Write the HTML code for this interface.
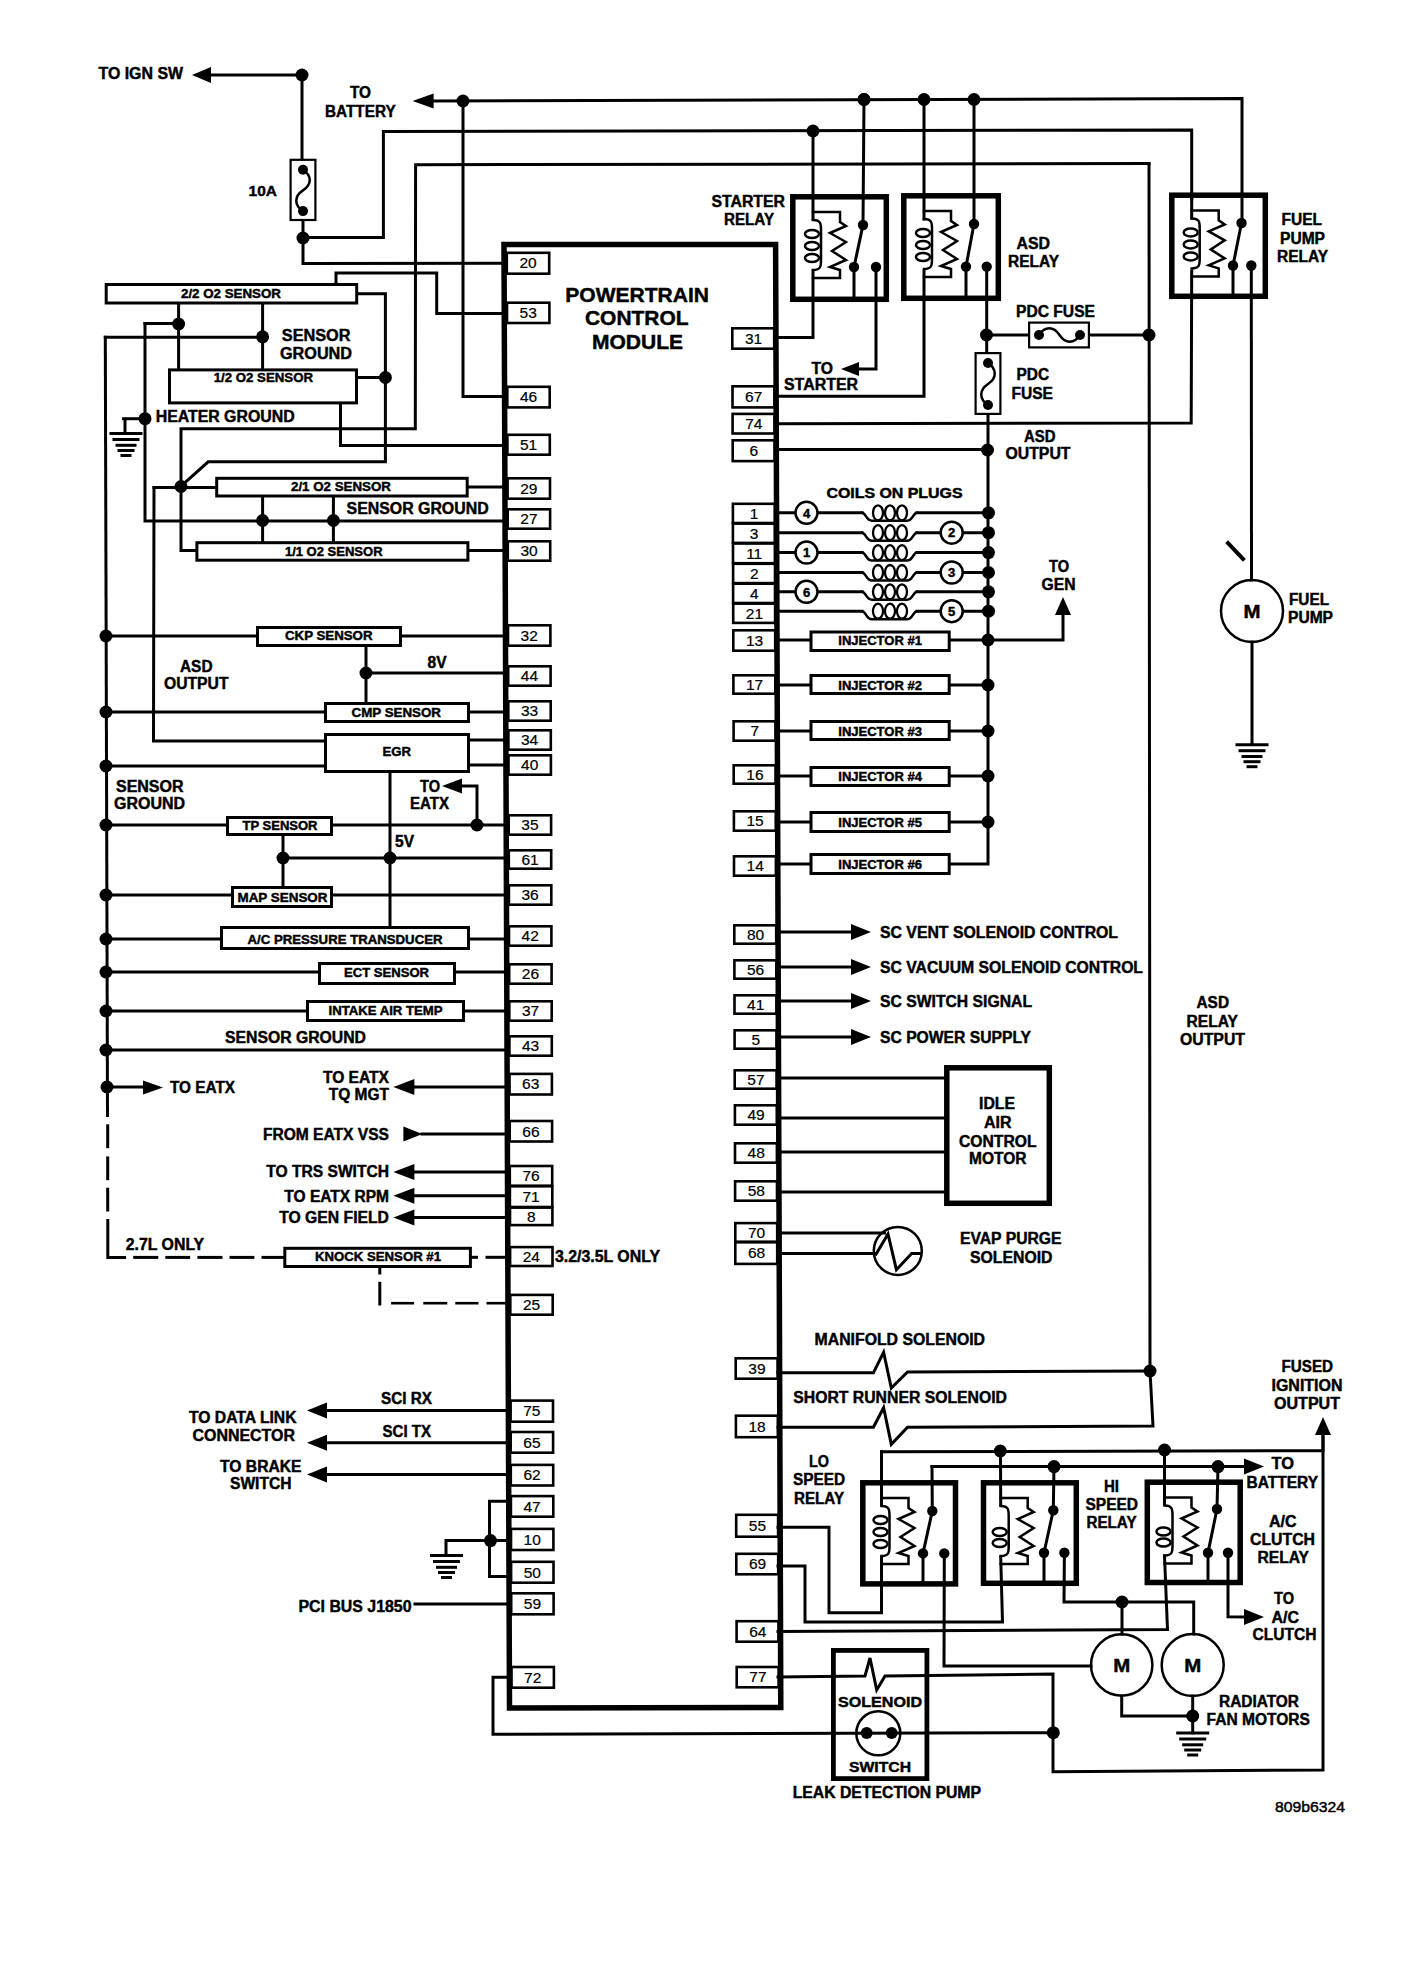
<!DOCTYPE html>
<html><head><meta charset="utf-8"><style>
html,body{margin:0;padding:0;background:#fff;}
svg{display:block;}
svg *{fill:none;stroke:#000;stroke-linecap:square;stroke-linejoin:miter;}
svg text{fill:#000;stroke:#000;stroke-width:0.45px;font-family:"Liberation Sans",sans-serif;}
svg .k{fill:#000;stroke:none;}
svg .w{fill:#fff;stroke:none;}
svg text.pn{font-weight:normal;stroke-width:0.2px;}
</style></head><body>
<svg width="1408" height="1968" viewBox="0 0 1408 1968">
<rect class="w" x="0" y="0" width="1408" height="1968"/>
<polygon points="504,244.5 775.6,244.5 780.8,1707.5 509.5,1708" stroke-width="5.5"/>
<text x="565.3" y="301.8" font-size="21" font-weight="bold" textLength="143.7" lengthAdjust="spacingAndGlyphs">POWERTRAIN</text>
<text x="585" y="325.4" font-size="21" font-weight="bold" textLength="103.5" lengthAdjust="spacingAndGlyphs">CONTROL</text>
<text x="592" y="349.1" font-size="21" font-weight="bold" textLength="91" lengthAdjust="spacingAndGlyphs">MODULE</text>
<text x="98.5" y="79.4" font-size="16" font-weight="bold" textLength="84.5" lengthAdjust="spacingAndGlyphs">TO IGN SW</text>
<polygon points="192,75 211,67 211,83" class="k"/>
<polyline points="211,75 302,75 302,159" stroke-width="3"/>
<circle cx="302" cy="75" r="6.5" class="k"/>
<rect x="290.6" y="159.8" width="24.8" height="60.2" stroke-width="2.2"/>
<circle cx="303" cy="169.7" r="5" class="k"/>
<circle cx="303" cy="211.1" r="5" class="k"/>
<path d="M303,169.7 C312,175.7 312,184.4 303,190.4 S294,205.1 303,211.1" stroke-width="2.5"/>
<text x="248.6" y="196" font-size="15" font-weight="bold" textLength="28.3" lengthAdjust="spacingAndGlyphs">10A</text>
<polyline points="303,221 303,263.5 504,263.2" stroke-width="3"/>
<circle cx="303" cy="238" r="6.5" class="k"/>
<polyline points="303,237.5 383.4,237.5 383.4,131.5 1191.7,130 1191.7,199" stroke-width="3"/>
<text x="350" y="98.2" font-size="16" font-weight="bold" textLength="21" lengthAdjust="spacingAndGlyphs">TO</text>
<text x="325" y="117" font-size="16" font-weight="bold" textLength="70.6" lengthAdjust="spacingAndGlyphs">BATTERY</text>
<polygon points="412.6,101 433.6,93.5 433.6,108.5" class="k"/>
<polyline points="433,101 1242,98.5 1242,223" stroke-width="3"/>
<circle cx="463" cy="101" r="6.5" class="k"/>
<circle cx="864" cy="99.5" r="6.5" class="k"/>
<circle cx="924" cy="99.5" r="6.5" class="k"/>
<circle cx="974" cy="99.5" r="6.5" class="k"/>
<polyline points="463,101 463,396.5 504,396.5" stroke-width="3"/>
<polyline points="1149,163.5 415.6,164.7 415.3,428.8 181,428.8 181,550.4 195.4,550.4" stroke-width="3"/>
<polyline points="1149,163.5 1150,1371" stroke-width="3"/>
<rect x="106.2" y="284.5" width="250.5" height="18.5" stroke-width="3"/>
<text x="181" y="298.4" font-size="13" font-weight="bold" textLength="100" lengthAdjust="spacingAndGlyphs">2/2 O2 SENSOR</text>
<polyline points="336,283 336,273 436.7,273 436.7,313.5 504,313.5" stroke-width="3"/>
<polyline points="358,293.8 385.4,293.8 385.4,461.8 208.2,461.8 181,486.2" stroke-width="3"/>
<circle cx="385.4" cy="377.5" r="6.5" class="k"/>
<polyline points="358,377.5 385.4,377.5" stroke-width="3"/>
<rect x="169.5" y="369.9" width="187" height="33" stroke-width="3"/>
<text x="213.7" y="382.4" font-size="13" font-weight="bold" textLength="99.3" lengthAdjust="spacingAndGlyphs">1/2 O2 SENSOR</text>
<polyline points="340.5,404.4 340.5,445.6 504,445.6" stroke-width="3"/>
<circle cx="178.6" cy="324" r="6.5" class="k"/>
<circle cx="262.6" cy="336.8" r="6.5" class="k"/>
<polyline points="178.6,304.5 178.6,368.4" stroke-width="3"/>
<polyline points="262.6,304.5 262.6,368.4" stroke-width="3"/>
<polyline points="145,323.5 178.6,323.5" stroke-width="3"/>
<polyline points="105.3,337.2 262.6,337.2" stroke-width="3"/>
<polyline points="145,323.5 145,521 504,521" stroke-width="3"/>
<circle cx="145" cy="418.7" r="6.5" class="k"/>
<polyline points="123.6,418.7 145,418.7" stroke-width="3"/>
<polyline points="125,419.5 125,433.5" stroke-width="3"/>
<line x1="111" y1="433.5" x2="141" y2="433.5" stroke-width="3"/>
<line x1="114" y1="439.5" x2="138" y2="439.5" stroke-width="3"/>
<line x1="117" y1="445.3" x2="135" y2="445.3" stroke-width="3"/>
<line x1="119" y1="450.5" x2="133" y2="450.5" stroke-width="3"/>
<line x1="122" y1="455.5" x2="130" y2="455.5" stroke-width="3"/>
<text x="155.7" y="422.1" font-size="16" font-weight="bold" textLength="138.9" lengthAdjust="spacingAndGlyphs">HEATER GROUND</text>
<text x="281.8" y="341.2" font-size="16" font-weight="bold" textLength="68.7" lengthAdjust="spacingAndGlyphs">SENSOR</text>
<text x="280" y="358.6" font-size="16" font-weight="bold" textLength="72" lengthAdjust="spacingAndGlyphs">GROUND</text>
<polyline points="105.3,337.2 107.5,1115.4" stroke-width="3"/>
<polyline points="107.7,1125.8 107.7,1146.7" stroke-width="3"/>
<polyline points="107.7,1157.9 107.7,1178.7" stroke-width="3"/>
<polyline points="107.7,1189.2 107.7,1210" stroke-width="3"/>
<polyline points="107.8,1220.5 107.8,1257.4 124.6,1257.4" stroke-width="3"/>
<polyline points="134.7,1257.4 156.8,1257.4" stroke-width="3"/>
<polyline points="166.8,1257.4 188.7,1257.4" stroke-width="3"/>
<polyline points="198.9,1257.4 221,1257.4" stroke-width="3"/>
<polyline points="231,1257.4 252.9,1257.4" stroke-width="3"/>
<polyline points="263,1257.4 283.9,1257.4" stroke-width="3"/>
<polyline points="154,487.5 215.2,487.5" stroke-width="3"/>
<circle cx="181" cy="486.5" r="6.5" class="k"/>
<polyline points="154,487.5 153.5,741 324,741" stroke-width="3"/>
<rect x="216.7" y="478.3" width="250.5" height="17.7" stroke-width="3"/>
<text x="291" y="491.4" font-size="13" font-weight="bold" textLength="100" lengthAdjust="spacingAndGlyphs">2/1 O2 SENSOR</text>
<polyline points="468.7,487 504,487" stroke-width="3"/>
<circle cx="262.6" cy="520.5" r="6.5" class="k"/>
<circle cx="333.4" cy="520.5" r="6.5" class="k"/>
<polyline points="262.6,497.5 262.6,541.2" stroke-width="3"/>
<polyline points="333.4,497.5 333.4,541.2" stroke-width="3"/>
<text x="346.6" y="514.4" font-size="16" font-weight="bold" textLength="142" lengthAdjust="spacingAndGlyphs">SENSOR GROUND</text>
<rect x="196.9" y="542.7" width="271" height="17.5" stroke-width="3"/>
<text x="284.9" y="555.6" font-size="13" font-weight="bold" textLength="97.7" lengthAdjust="spacingAndGlyphs">1/1 O2 SENSOR</text>
<polyline points="469.4,550.4 504,550.4" stroke-width="3"/>
<rect x="257.5" y="627.5" width="143" height="18" stroke-width="3"/>
<text x="285" y="640.4" font-size="13" font-weight="bold" textLength="87.5" lengthAdjust="spacingAndGlyphs">CKP SENSOR</text>
<polyline points="106,636 256,636" stroke-width="3"/>
<polyline points="402,636 506,636" stroke-width="3"/>
<circle cx="106" cy="636" r="6.5" class="k"/>
<polyline points="366,647 366,702" stroke-width="3"/>
<circle cx="366" cy="673" r="6.5" class="k"/>
<polyline points="366,673 506,673" stroke-width="3"/>
<text x="427.5" y="667.9" font-size="16" font-weight="bold" textLength="19" lengthAdjust="spacingAndGlyphs">8V</text>
<text x="180" y="671.9" font-size="16" font-weight="bold" textLength="32.5" lengthAdjust="spacingAndGlyphs">ASD</text>
<text x="164" y="689.4" font-size="16" font-weight="bold" textLength="64.5" lengthAdjust="spacingAndGlyphs">OUTPUT</text>
<rect x="325.5" y="703.5" width="143" height="18" stroke-width="3"/>
<text x="351.5" y="716.9" font-size="13" font-weight="bold" textLength="89.5" lengthAdjust="spacingAndGlyphs">CMP SENSOR</text>
<polyline points="106,712 324,712" stroke-width="3"/>
<polyline points="470,712 506,712" stroke-width="3"/>
<circle cx="106" cy="712" r="6.5" class="k"/>
<rect x="325.5" y="734.5" width="143" height="37" stroke-width="3"/>
<text x="382.5" y="755.9" font-size="13" font-weight="bold" textLength="28.5" lengthAdjust="spacingAndGlyphs">EGR</text>
<polyline points="470,740 506,740" stroke-width="3"/>
<polyline points="470,765 506,765" stroke-width="3"/>
<polyline points="106,766 324,766" stroke-width="3"/>
<circle cx="106" cy="766" r="6.5" class="k"/>
<text x="116" y="791.9" font-size="16" font-weight="bold" textLength="67.5" lengthAdjust="spacingAndGlyphs">SENSOR</text>
<text x="114" y="809.4" font-size="16" font-weight="bold" textLength="71" lengthAdjust="spacingAndGlyphs">GROUND</text>
<polyline points="390,773 390,926" stroke-width="3"/>
<circle cx="390" cy="858" r="6.5" class="k"/>
<text x="420" y="791.9" font-size="16" font-weight="bold" textLength="20" lengthAdjust="spacingAndGlyphs">TO</text>
<text x="410" y="809.4" font-size="16" font-weight="bold" textLength="39" lengthAdjust="spacingAndGlyphs">EATX</text>
<polygon points="442,786 462,778.5 462,793.5" class="k"/>
<polyline points="462,786 477,786 477,825" stroke-width="3"/>
<circle cx="477" cy="825" r="6.5" class="k"/>
<rect x="227.5" y="817.5" width="104" height="17" stroke-width="3"/>
<text x="242.5" y="830.4" font-size="13" font-weight="bold" textLength="75" lengthAdjust="spacingAndGlyphs">TP SENSOR</text>
<polyline points="106,825 226,825" stroke-width="3"/>
<polyline points="333,825 506,825" stroke-width="3"/>
<circle cx="106" cy="825" r="6.5" class="k"/>
<text x="395" y="846.9" font-size="16" font-weight="bold" textLength="19" lengthAdjust="spacingAndGlyphs">5V</text>
<polyline points="283,836 283,886" stroke-width="3"/>
<circle cx="283" cy="858" r="6.5" class="k"/>
<polyline points="283,858 506,858" stroke-width="3"/>
<rect x="232.5" y="887.5" width="99" height="19" stroke-width="3"/>
<text x="237.5" y="901.9" font-size="13" font-weight="bold" textLength="90" lengthAdjust="spacingAndGlyphs">MAP SENSOR</text>
<polyline points="106,895 231,895" stroke-width="3"/>
<polyline points="333,895 506,895" stroke-width="3"/>
<circle cx="106" cy="895" r="6.5" class="k"/>
<rect x="221.5" y="927.5" width="247" height="21" stroke-width="3"/>
<text x="247.5" y="944.4" font-size="13" font-weight="bold" textLength="195" lengthAdjust="spacingAndGlyphs">A/C PRESSURE TRANSDUCER</text>
<polyline points="106,939 220,939" stroke-width="3"/>
<polyline points="470,939 506,939" stroke-width="3"/>
<circle cx="106" cy="939" r="6.5" class="k"/>
<rect x="319.5" y="963.5" width="135" height="20" stroke-width="3"/>
<text x="344" y="976.9" font-size="13" font-weight="bold" textLength="85" lengthAdjust="spacingAndGlyphs">ECT SENSOR</text>
<polyline points="106,972 318,972" stroke-width="3"/>
<polyline points="456,972 507,972" stroke-width="3"/>
<circle cx="106" cy="972" r="6.5" class="k"/>
<rect x="307.5" y="1001.5" width="156" height="19" stroke-width="3"/>
<text x="328.5" y="1015.4" font-size="13" font-weight="bold" textLength="114" lengthAdjust="spacingAndGlyphs">INTAKE AIR TEMP</text>
<polyline points="106,1011 306,1011" stroke-width="3"/>
<polyline points="465,1011 507,1011" stroke-width="3"/>
<circle cx="106" cy="1011" r="6.5" class="k"/>
<text x="225" y="1043.4" font-size="16" font-weight="bold" textLength="141" lengthAdjust="spacingAndGlyphs">SENSOR GROUND</text>
<polyline points="106,1050 507,1050" stroke-width="3"/>
<circle cx="106" cy="1050" r="6.5" class="k"/>
<circle cx="107" cy="1087" r="6.5" class="k"/>
<polyline points="107,1087 143,1087" stroke-width="3"/>
<polygon points="163,1087.5 143,1080.5 143,1094.5" class="k"/>
<text x="170" y="1093.4" font-size="16" font-weight="bold" textLength="65" lengthAdjust="spacingAndGlyphs">TO EATX</text>
<text x="322.9" y="1083.4" font-size="16" font-weight="bold" textLength="66.1" lengthAdjust="spacingAndGlyphs">TO EATX</text>
<text x="328.7" y="1100.4" font-size="16" font-weight="bold" textLength="60.3" lengthAdjust="spacingAndGlyphs">TQ MGT</text>
<polygon points="393.4,1087 414.4,1079 414.4,1095" class="k"/>
<polyline points="414,1087 509,1087" stroke-width="3"/>
<text x="262.9" y="1140.4" font-size="16" font-weight="bold" textLength="126.1" lengthAdjust="spacingAndGlyphs">FROM EATX VSS</text>
<polygon points="422.4,1134 403.4,1126.5 403.4,1141.5" class="k"/>
<polyline points="422,1134 509,1134" stroke-width="3"/>
<text x="266.3" y="1177" font-size="16" font-weight="bold" textLength="122.7" lengthAdjust="spacingAndGlyphs">TO TRS SWITCH</text>
<polygon points="393.4,1172 414.4,1164 414.4,1180" class="k"/>
<polyline points="414,1172 509,1172" stroke-width="3"/>
<text x="284.3" y="1201.9" font-size="16" font-weight="bold" textLength="104.7" lengthAdjust="spacingAndGlyphs">TO EATX RPM</text>
<polygon points="393.4,1195.7 414.4,1187.7 414.4,1203.7" class="k"/>
<polyline points="414,1195.7 509,1195.7" stroke-width="3"/>
<text x="279.2" y="1223.1" font-size="16" font-weight="bold" textLength="109.8" lengthAdjust="spacingAndGlyphs">TO GEN FIELD</text>
<polygon points="393.4,1217.5 414.4,1209.5 414.4,1225.5" class="k"/>
<polyline points="414,1217.5 509,1217.5" stroke-width="3"/>
<rect x="284.8" y="1248.3" width="185.6" height="18.2" stroke-width="3"/>
<text x="315" y="1261.4" font-size="13" font-weight="bold" textLength="126" lengthAdjust="spacingAndGlyphs">KNOCK SENSOR #1</text>
<polyline points="472,1257.3 476.5,1257.3" stroke-width="3"/>
<polyline points="487,1257.3 507,1257.3" stroke-width="3"/>
<text x="125.8" y="1250.4" font-size="16" font-weight="bold" textLength="78.4" lengthAdjust="spacingAndGlyphs">2.7L ONLY</text>
<text x="555" y="1261.9" font-size="16" font-weight="bold" textLength="105" lengthAdjust="spacingAndGlyphs">3.2/3.5L ONLY</text>
<polyline points="379.8,1269 379.8,1273" stroke-width="3"/>
<polyline points="379.8,1283.3 379.8,1304" stroke-width="3"/>
<polyline points="392.4,1303.2 412.8,1303.2" stroke-width="2.6"/>
<polyline points="424.6,1303.2 446,1303.2" stroke-width="2.6"/>
<polyline points="456.6,1303.2 477.2,1303.2" stroke-width="2.6"/>
<polyline points="487.8,1303.2 507,1303.2" stroke-width="2.6"/>
<text x="381" y="1404.4" font-size="16" font-weight="bold" textLength="51" lengthAdjust="spacingAndGlyphs">SCI RX</text>
<polygon points="307,1410.5 327,1402.5 327,1418.5" class="k"/>
<polyline points="327,1410.5 510,1410.5" stroke-width="3"/>
<text x="189" y="1423.4" font-size="16" font-weight="bold" textLength="107.5" lengthAdjust="spacingAndGlyphs">TO DATA LINK</text>
<text x="192.5" y="1440.9" font-size="16" font-weight="bold" textLength="102.5" lengthAdjust="spacingAndGlyphs">CONNECTOR</text>
<text x="382.5" y="1436.9" font-size="16" font-weight="bold" textLength="48.5" lengthAdjust="spacingAndGlyphs">SCI TX</text>
<polygon points="307,1442.7 327,1434.7 327,1450.7" class="k"/>
<polyline points="327,1442.7 510,1442.7" stroke-width="3"/>
<text x="220" y="1471.9" font-size="16" font-weight="bold" textLength="81.5" lengthAdjust="spacingAndGlyphs">TO BRAKE</text>
<text x="230" y="1489.4" font-size="16" font-weight="bold" textLength="61.5" lengthAdjust="spacingAndGlyphs">SWITCH</text>
<polygon points="307,1474.6 327,1466.6 327,1482.6" class="k"/>
<polyline points="327,1474.6 510,1474.6" stroke-width="3"/>
<polyline points="510,1501.2 489.5,1501.2 489.5,1576.5 510,1576.5" stroke-width="3"/>
<circle cx="490.5" cy="1540.6" r="6.5" class="k"/>
<polyline points="446,1554.7 446,1540.6 510,1540.6" stroke-width="3"/>
<line x1="431.5" y1="1555.5" x2="461.5" y2="1555.5" stroke-width="3"/>
<line x1="434.5" y1="1561.5" x2="458.5" y2="1561.5" stroke-width="3"/>
<line x1="437.5" y1="1567.3" x2="455.5" y2="1567.3" stroke-width="3"/>
<line x1="439.5" y1="1572.5" x2="453.5" y2="1572.5" stroke-width="3"/>
<line x1="442.5" y1="1577.5" x2="450.5" y2="1577.5" stroke-width="3"/>
<text x="298.5" y="1611.9" font-size="16" font-weight="bold" textLength="113" lengthAdjust="spacingAndGlyphs">PCI BUS J1850</text>
<polyline points="415,1604 510,1604" stroke-width="3"/>
<polyline points="510,1677.3 493,1677.3 493,1734.2 1053.3,1732.7" stroke-width="3"/>
<rect x="506.8" y="252.8" width="42.4" height="20.9" stroke-width="2.6"/>
<text x="528" y="268.4" font-size="15.5" text-anchor="middle" class="pn">20</text>
<rect x="507" y="302.7" width="42.4" height="20.3" stroke-width="2.6"/>
<text x="528.2" y="318.1" font-size="15.5" text-anchor="middle" class="pn">53</text>
<rect x="507.3" y="386.8" width="42.4" height="20.6" stroke-width="2.6"/>
<text x="528.5" y="402.3" font-size="15.5" text-anchor="middle" class="pn">46</text>
<rect x="507.4" y="434.8" width="42.4" height="19.9" stroke-width="2.6"/>
<text x="528.6" y="449.9" font-size="15.5" text-anchor="middle" class="pn">51</text>
<rect x="507.6" y="478.3" width="42.4" height="20.4" stroke-width="2.6"/>
<text x="528.8" y="493.7" font-size="15.5" text-anchor="middle" class="pn">29</text>
<rect x="507.7" y="509.3" width="42.4" height="19.4" stroke-width="2.6"/>
<text x="528.9" y="524.2" font-size="15.5" text-anchor="middle" class="pn">27</text>
<rect x="507.8" y="541.3" width="42.4" height="19.4" stroke-width="2.6"/>
<text x="529" y="556.2" font-size="15.5" text-anchor="middle" class="pn">30</text>
<rect x="508" y="625.3" width="42.4" height="20.4" stroke-width="2.6"/>
<text x="529.2" y="640.7" font-size="15.5" text-anchor="middle" class="pn">32</text>
<rect x="508.2" y="666.3" width="42.4" height="19.4" stroke-width="2.6"/>
<text x="529.4" y="681.2" font-size="15.5" text-anchor="middle" class="pn">44</text>
<rect x="508.3" y="701.3" width="42.4" height="19.4" stroke-width="2.6"/>
<text x="529.5" y="716.2" font-size="15.5" text-anchor="middle" class="pn">33</text>
<rect x="508.4" y="730.3" width="42.4" height="19.4" stroke-width="2.6"/>
<text x="529.6" y="745.2" font-size="15.5" text-anchor="middle" class="pn">34</text>
<rect x="508.5" y="755.3" width="42.4" height="19.4" stroke-width="2.6"/>
<text x="529.7" y="770.2" font-size="15.5" text-anchor="middle" class="pn">40</text>
<rect x="508.7" y="815.3" width="42.4" height="19.4" stroke-width="2.6"/>
<text x="529.9" y="830.2" font-size="15.5" text-anchor="middle" class="pn">35</text>
<rect x="508.8" y="850.3" width="42.4" height="18.4" stroke-width="2.6"/>
<text x="530" y="864.7" font-size="15.5" text-anchor="middle" class="pn">61</text>
<rect x="508.9" y="885.3" width="42.4" height="19.4" stroke-width="2.6"/>
<text x="530.1" y="900.2" font-size="15.5" text-anchor="middle" class="pn">36</text>
<rect x="509" y="926.3" width="42.4" height="19.4" stroke-width="2.6"/>
<text x="530.2" y="941.2" font-size="15.5" text-anchor="middle" class="pn">42</text>
<rect x="509.2" y="964.3" width="42.4" height="19.4" stroke-width="2.6"/>
<text x="530.4" y="979.2" font-size="15.5" text-anchor="middle" class="pn">26</text>
<rect x="509.3" y="1001.3" width="42.4" height="19.4" stroke-width="2.6"/>
<text x="530.5" y="1016.2" font-size="15.5" text-anchor="middle" class="pn">37</text>
<rect x="509.4" y="1036.3" width="42.4" height="19.4" stroke-width="2.6"/>
<text x="530.6" y="1051.2" font-size="15.5" text-anchor="middle" class="pn">43</text>
<rect x="509.5" y="1073.9" width="42.4" height="20.6" stroke-width="2.6"/>
<text x="530.7" y="1089.4" font-size="15.5" text-anchor="middle" class="pn">63</text>
<rect x="509.7" y="1121" width="42.4" height="20.5" stroke-width="2.6"/>
<text x="530.9" y="1136.5" font-size="15.5" text-anchor="middle" class="pn">66</text>
<rect x="509.8" y="1166" width="42.4" height="19.7" stroke-width="2.6"/>
<text x="531" y="1181" font-size="15.5" text-anchor="middle" class="pn">76</text>
<rect x="509.9" y="1186.3" width="42.4" height="20.7" stroke-width="2.6"/>
<text x="531.1" y="1201.9" font-size="15.5" text-anchor="middle" class="pn">71</text>
<rect x="510" y="1207.6" width="42.4" height="17.5" stroke-width="2.6"/>
<text x="531.2" y="1221.5" font-size="15.5" text-anchor="middle" class="pn">8</text>
<rect x="510.1" y="1247.1" width="42.4" height="18.9" stroke-width="2.6"/>
<text x="531.3" y="1261.8" font-size="15.5" text-anchor="middle" class="pn">24</text>
<rect x="510.3" y="1294.9" width="42.4" height="19.8" stroke-width="2.6"/>
<text x="531.5" y="1310" font-size="15.5" text-anchor="middle" class="pn">25</text>
<rect x="510.6" y="1400.6" width="42.4" height="21.1" stroke-width="2.6"/>
<text x="531.8" y="1416.4" font-size="15.5" text-anchor="middle" class="pn">75</text>
<rect x="510.7" y="1432" width="42.4" height="20.7" stroke-width="2.6"/>
<text x="531.9" y="1447.5" font-size="15.5" text-anchor="middle" class="pn">65</text>
<rect x="510.8" y="1464.9" width="42.4" height="20.6" stroke-width="2.6"/>
<text x="532" y="1480.4" font-size="15.5" text-anchor="middle" class="pn">62</text>
<rect x="510.9" y="1496.1" width="42.4" height="20.6" stroke-width="2.6"/>
<text x="532.1" y="1511.6" font-size="15.5" text-anchor="middle" class="pn">47</text>
<rect x="511" y="1528.9" width="42.4" height="21.1" stroke-width="2.6"/>
<text x="532.2" y="1544.6" font-size="15.5" text-anchor="middle" class="pn">10</text>
<rect x="511.1" y="1561.8" width="42.4" height="20.9" stroke-width="2.6"/>
<text x="532.3" y="1577.5" font-size="15.5" text-anchor="middle" class="pn">50</text>
<rect x="511.2" y="1593.3" width="42.4" height="21" stroke-width="2.6"/>
<text x="532.4" y="1609" font-size="15.5" text-anchor="middle" class="pn">59</text>
<rect x="511.5" y="1667" width="42.4" height="20.7" stroke-width="2.6"/>
<text x="532.7" y="1682.5" font-size="15.5" text-anchor="middle" class="pn">72</text>
<text x="711.5" y="206.9" font-size="16" font-weight="bold" textLength="73.5" lengthAdjust="spacingAndGlyphs">STARTER</text>
<text x="724" y="225.4" font-size="16" font-weight="bold" textLength="50" lengthAdjust="spacingAndGlyphs">RELAY</text>
<rect x="792.8" y="196.8" width="93.5" height="102.5" stroke-width="5.5"/>
<polyline points="813,212 840,212 840,222 846,226 830,233 846,242 832,251 846,260 830,267 840,270 840,278 813,278" stroke-width="2.5"/>
<path d="M813,220 c8,0 8,4 8,10 v30 c0,6 0,10 -8,10" stroke-width="2.5"/>
<ellipse cx="812" cy="234" rx="7" ry="4" stroke-width="2.5"/>
<ellipse cx="812" cy="246" rx="7" ry="4" stroke-width="2.5"/>
<ellipse cx="812" cy="258" rx="7" ry="4" stroke-width="2.5"/>
<circle cx="863" cy="225" r="5.2" class="k"/>
<circle cx="854" cy="267" r="5.2" class="k"/>
<circle cx="876" cy="267" r="5.2" class="k"/>
<polyline points="863,225 854,267" stroke-width="3"/>
<polyline points="854,267 854,299" stroke-width="3"/>
<circle cx="813" cy="131" r="6.5" class="k"/>
<polyline points="813,130 813,219" stroke-width="3"/>
<polyline points="813,271 813,337.4 778,337.4" stroke-width="3"/>
<polyline points="864,99.5 863,225" stroke-width="3"/>
<circle cx="864" cy="99.5" r="6.5" class="k"/>
<polyline points="876,267 876,369 859,369" stroke-width="3"/>
<polygon points="841,369 859,362 859,376" class="k"/>
<text x="811.5" y="374.4" font-size="16" font-weight="bold" textLength="21.5" lengthAdjust="spacingAndGlyphs">TO</text>
<text x="784" y="390.4" font-size="16" font-weight="bold" textLength="74" lengthAdjust="spacingAndGlyphs">STARTER</text>
<text x="1016.5" y="249.4" font-size="16" font-weight="bold" textLength="33.5" lengthAdjust="spacingAndGlyphs">ASD</text>
<text x="1008" y="266.9" font-size="16" font-weight="bold" textLength="51" lengthAdjust="spacingAndGlyphs">RELAY</text>
<rect x="903.8" y="195.8" width="94.5" height="102.5" stroke-width="5.5"/>
<polyline points="924,211 951,211 951,221 957,225 941,232 957,241 943,250 957,259 941,266 951,269 951,277 924,277" stroke-width="2.5"/>
<path d="M924,219 c8,0 8,4 8,10 v30 c0,6 0,10 -8,10" stroke-width="2.5"/>
<ellipse cx="923" cy="233" rx="7" ry="4" stroke-width="2.5"/>
<ellipse cx="923" cy="245" rx="7" ry="4" stroke-width="2.5"/>
<ellipse cx="923" cy="257" rx="7" ry="4" stroke-width="2.5"/>
<circle cx="974" cy="224" r="5.2" class="k"/>
<circle cx="966" cy="266.6" r="5.2" class="k"/>
<circle cx="986.7" cy="266.6" r="5.2" class="k"/>
<polyline points="974,224 966,266.6" stroke-width="3"/>
<polyline points="966,266.6 966,298" stroke-width="3"/>
<polyline points="924,99.5 924,219" stroke-width="3"/>
<polyline points="924,271 924,396.2 778,396.2" stroke-width="3"/>
<polyline points="974,99.5 974,224" stroke-width="3"/>
<polyline points="986.7,266.6 986.7,352" stroke-width="3"/>
<circle cx="986.5" cy="335" r="6.5" class="k"/>
<polyline points="986.5,335 1028,335" stroke-width="3"/>
<rect x="1029.1" y="322.6" width="59.8" height="24.8" stroke-width="2.2"/>
<circle cx="1039" cy="335" r="5" class="k"/>
<circle cx="1080" cy="335" r="5" class="k"/>
<path d="M1039,335 C1045,326 1053.5,326 1059.5,335 S1074,344 1080,335" stroke-width="2.5"/>
<polyline points="1090,335 1149,335" stroke-width="3"/>
<circle cx="1149" cy="335" r="6.5" class="k"/>
<text x="1016" y="316.9" font-size="16" font-weight="bold" textLength="79" lengthAdjust="spacingAndGlyphs">PDC FUSE</text>
<rect x="975.6" y="353.1" width="24.8" height="60.8" stroke-width="2.2"/>
<circle cx="988" cy="363" r="5" class="k"/>
<circle cx="988" cy="405" r="5" class="k"/>
<path d="M988,363 C997,369 997,378 988,384 S979,399 988,405" stroke-width="2.5"/>
<text x="1016.5" y="380.4" font-size="16" font-weight="bold" textLength="32.5" lengthAdjust="spacingAndGlyphs">PDC</text>
<text x="1011.5" y="399.4" font-size="16" font-weight="bold" textLength="41.5" lengthAdjust="spacingAndGlyphs">FUSE</text>
<polyline points="988,415 988,864 951,864" stroke-width="3"/>
<circle cx="987.5" cy="450" r="6.5" class="k"/>
<polyline points="778,449.4 987.5,449.6" stroke-width="3"/>
<text x="1024" y="441.9" font-size="16" font-weight="bold" textLength="31.5" lengthAdjust="spacingAndGlyphs">ASD</text>
<text x="1005.5" y="459.4" font-size="16" font-weight="bold" textLength="65" lengthAdjust="spacingAndGlyphs">OUTPUT</text>
<rect x="1171.8" y="195.2" width="93.5" height="101.1" stroke-width="5.5"/>
<polyline points="1191.7,210.4 1218.7,210.4 1218.7,220.4 1224.7,224.4 1208.7,231.4 1224.7,240.4 1210.7,249.4 1224.7,258.4 1208.7,265.4 1218.7,268.4 1218.7,276.4 1191.7,276.4" stroke-width="2.5"/>
<path d="M1191.7,218.4 c8,0 8,4 8,10 v30 c0,6 0,10 -8,10" stroke-width="2.5"/>
<ellipse cx="1190.7" cy="232.4" rx="7" ry="4" stroke-width="2.5"/>
<ellipse cx="1190.7" cy="244.4" rx="7" ry="4" stroke-width="2.5"/>
<ellipse cx="1190.7" cy="256.4" rx="7" ry="4" stroke-width="2.5"/>
<circle cx="1241.5" cy="223" r="5.2" class="k"/>
<circle cx="1233" cy="265.5" r="5.2" class="k"/>
<circle cx="1251.3" cy="265.5" r="5.2" class="k"/>
<polyline points="1241.5,223 1233,265.5" stroke-width="3"/>
<polyline points="1233,265.5 1233,296" stroke-width="3"/>
<polyline points="1191.7,199 1191.7,218" stroke-width="3"/>
<polyline points="1191.7,271 1191.2,423 778,423.8" stroke-width="3"/>
<polyline points="1251.3,265.5 1251.5,580" stroke-width="3"/>
<text x="1281.5" y="225.4" font-size="16" font-weight="bold" textLength="40.5" lengthAdjust="spacingAndGlyphs">FUEL</text>
<text x="1280" y="244.4" font-size="16" font-weight="bold" textLength="45" lengthAdjust="spacingAndGlyphs">PUMP</text>
<text x="1277" y="262.4" font-size="16" font-weight="bold" textLength="51" lengthAdjust="spacingAndGlyphs">RELAY</text>
<circle cx="1252" cy="611" r="31" stroke-width="2.5"/>
<text x="1252" y="618" font-size="19" font-weight="bold" text-anchor="middle" textLength="17" lengthAdjust="spacingAndGlyphs">M</text>
<polyline points="1252,642 1252,744" stroke-width="3"/>
<line x1="1237" y1="744.7" x2="1267" y2="744.7" stroke-width="3"/>
<line x1="1240" y1="750.7" x2="1264" y2="750.7" stroke-width="3"/>
<line x1="1243" y1="756.5" x2="1261" y2="756.5" stroke-width="3"/>
<line x1="1245" y1="761.7" x2="1259" y2="761.7" stroke-width="3"/>
<line x1="1248" y1="766.7" x2="1256" y2="766.7" stroke-width="3"/>
<text x="1289" y="605.4" font-size="16" font-weight="bold" textLength="40" lengthAdjust="spacingAndGlyphs">FUEL</text>
<text x="1288" y="623.4" font-size="16" font-weight="bold" textLength="45" lengthAdjust="spacingAndGlyphs">PUMP</text>
<line x1="1228" y1="543" x2="1243" y2="559" stroke-width="4"/>
<rect x="732.3" y="328.3" width="41.9" height="20.4" stroke-width="2.6"/>
<text x="753.5" y="343.7" font-size="15.5" text-anchor="middle" class="pn">31</text>
<rect x="732.5" y="386.3" width="41.9" height="21.1" stroke-width="2.6"/>
<text x="753.7" y="402.1" font-size="15.5" text-anchor="middle" class="pn">67</text>
<rect x="732.6" y="413.9" width="41.9" height="19.6" stroke-width="2.6"/>
<text x="753.8" y="428.9" font-size="15.5" text-anchor="middle" class="pn">74</text>
<rect x="732.7" y="440.3" width="41.9" height="20.8" stroke-width="2.6"/>
<text x="753.9" y="455.9" font-size="15.5" text-anchor="middle" class="pn">6</text>
<rect x="732.9" y="503.8" width="41.9" height="19.2" stroke-width="2.6"/>
<text x="754.1" y="518.6" font-size="15.5" text-anchor="middle" class="pn">1</text>
<rect x="732.9" y="523.6" width="41.9" height="19.3" stroke-width="2.6"/>
<text x="754.1" y="538.5" font-size="15.5" text-anchor="middle" class="pn">3</text>
<rect x="733" y="543.5" width="41.9" height="19.7" stroke-width="2.6"/>
<text x="754.2" y="558.6" font-size="15.5" text-anchor="middle" class="pn">11</text>
<rect x="733.1" y="563.8" width="41.9" height="19.3" stroke-width="2.6"/>
<text x="754.3" y="578.7" font-size="15.5" text-anchor="middle" class="pn">2</text>
<rect x="733.1" y="583.7" width="41.9" height="19.3" stroke-width="2.6"/>
<text x="754.3" y="598.5" font-size="15.5" text-anchor="middle" class="pn">4</text>
<rect x="733.2" y="603.6" width="41.9" height="19.3" stroke-width="2.6"/>
<text x="754.4" y="618.5" font-size="15.5" text-anchor="middle" class="pn">21</text>
<rect x="733.3" y="630.3" width="41.9" height="20.4" stroke-width="2.6"/>
<text x="754.5" y="645.7" font-size="15.5" text-anchor="middle" class="pn">13</text>
<rect x="733.4" y="675.3" width="41.9" height="18.4" stroke-width="2.6"/>
<text x="754.6" y="689.7" font-size="15.5" text-anchor="middle" class="pn">17</text>
<rect x="733.6" y="721.3" width="41.9" height="19.4" stroke-width="2.6"/>
<text x="754.8" y="736.2" font-size="15.5" text-anchor="middle" class="pn">7</text>
<rect x="733.7" y="765.3" width="41.9" height="18.4" stroke-width="2.6"/>
<text x="754.9" y="779.7" font-size="15.5" text-anchor="middle" class="pn">16</text>
<rect x="733.9" y="811.3" width="41.9" height="19.4" stroke-width="2.6"/>
<text x="755.1" y="826.2" font-size="15.5" text-anchor="middle" class="pn">15</text>
<rect x="734" y="856.3" width="41.9" height="19.4" stroke-width="2.6"/>
<text x="755.2" y="871.2" font-size="15.5" text-anchor="middle" class="pn">14</text>
<rect x="734.3" y="925.3" width="41.9" height="18.4" stroke-width="2.6"/>
<text x="755.5" y="939.7" font-size="15.5" text-anchor="middle" class="pn">80</text>
<rect x="734.4" y="960.3" width="41.9" height="18.4" stroke-width="2.6"/>
<text x="755.6" y="974.7" font-size="15.5" text-anchor="middle" class="pn">56</text>
<rect x="734.5" y="995.3" width="41.9" height="18.4" stroke-width="2.6"/>
<text x="755.7" y="1009.7" font-size="15.5" text-anchor="middle" class="pn">41</text>
<rect x="734.6" y="1030.3" width="41.9" height="18.4" stroke-width="2.6"/>
<text x="755.8" y="1044.7" font-size="15.5" text-anchor="middle" class="pn">5</text>
<rect x="734.7" y="1070.3" width="41.9" height="18.4" stroke-width="2.6"/>
<text x="755.9" y="1084.7" font-size="15.5" text-anchor="middle" class="pn">57</text>
<rect x="734.9" y="1105.3" width="41.9" height="19.4" stroke-width="2.6"/>
<text x="756.1" y="1120.2" font-size="15.5" text-anchor="middle" class="pn">49</text>
<rect x="735" y="1143.3" width="41.9" height="19.4" stroke-width="2.6"/>
<text x="756.2" y="1158.2" font-size="15.5" text-anchor="middle" class="pn">48</text>
<rect x="735.1" y="1181.3" width="41.9" height="19.4" stroke-width="2.6"/>
<text x="756.3" y="1196.2" font-size="15.5" text-anchor="middle" class="pn">58</text>
<rect x="735.3" y="1223.1" width="41.9" height="18.6" stroke-width="2.6"/>
<text x="756.5" y="1237.6" font-size="15.5" text-anchor="middle" class="pn">70</text>
<rect x="735.3" y="1242.3" width="41.9" height="21.6" stroke-width="2.6"/>
<text x="756.5" y="1258.3" font-size="15.5" text-anchor="middle" class="pn">68</text>
<rect x="735.7" y="1358.3" width="41.9" height="20.4" stroke-width="2.6"/>
<text x="756.9" y="1373.7" font-size="15.5" text-anchor="middle" class="pn">39</text>
<rect x="735.9" y="1415.7" width="41.9" height="21.5" stroke-width="2.6"/>
<text x="757.1" y="1431.7" font-size="15.5" text-anchor="middle" class="pn">18</text>
<rect x="736.2" y="1514.8" width="41.9" height="21.9" stroke-width="2.6"/>
<text x="757.4" y="1531" font-size="15.5" text-anchor="middle" class="pn">55</text>
<rect x="736.3" y="1553.8" width="41.9" height="20.5" stroke-width="2.6"/>
<text x="757.5" y="1569.2" font-size="15.5" text-anchor="middle" class="pn">69</text>
<rect x="736.6" y="1621.2" width="41.9" height="20.5" stroke-width="2.6"/>
<text x="757.8" y="1636.7" font-size="15.5" text-anchor="middle" class="pn">64</text>
<rect x="736.7" y="1667" width="41.9" height="20.3" stroke-width="2.6"/>
<text x="757.9" y="1682.4" font-size="15.5" text-anchor="middle" class="pn">77</text>
<text x="826.4" y="498.4" font-size="14" font-weight="bold" textLength="136.2" lengthAdjust="spacingAndGlyphs">COILS ON PLUGS</text>
<polyline points="778,512.8 862,512.8" stroke-width="3"/>
<polyline points="917,512.8 988,512.8" stroke-width="3"/>
<path d="M862,512.8 c4,0 4,8 10,8 h35 c6,0 6,-8 10,-8" stroke-width="2.5"/>
<ellipse cx="878" cy="512.8" rx="5" ry="7.5" stroke-width="2.3"/>
<ellipse cx="890" cy="512.8" rx="5" ry="7.5" stroke-width="2.3"/>
<ellipse cx="902" cy="512.8" rx="5" ry="7.5" stroke-width="2.3"/>
<circle cx="988.5" cy="512.8" r="6.5" class="k"/>
<rect x="795" y="509.8" width="23" height="6" class="w"/>
<circle cx="806.5" cy="512.8" r="11" stroke-width="2.5"/>
<text x="806.5" y="517.5" font-size="13" font-weight="bold" text-anchor="middle">4</text>
<polyline points="778,532.7 862,532.7" stroke-width="3"/>
<polyline points="917,532.7 988,532.7" stroke-width="3"/>
<path d="M862,532.7 c4,0 4,8 10,8 h35 c6,0 6,-8 10,-8" stroke-width="2.5"/>
<ellipse cx="878" cy="532.7" rx="5" ry="7.5" stroke-width="2.3"/>
<ellipse cx="890" cy="532.7" rx="5" ry="7.5" stroke-width="2.3"/>
<ellipse cx="902" cy="532.7" rx="5" ry="7.5" stroke-width="2.3"/>
<circle cx="988.5" cy="532.7" r="6.5" class="k"/>
<rect x="940" y="529.7" width="23" height="6" class="w"/>
<circle cx="951.7" cy="532.7" r="11" stroke-width="2.5"/>
<text x="951.7" y="537.4" font-size="13" font-weight="bold" text-anchor="middle">2</text>
<polyline points="778,552.6 862,552.6" stroke-width="3"/>
<polyline points="917,552.6 988,552.6" stroke-width="3"/>
<path d="M862,552.6 c4,0 4,8 10,8 h35 c6,0 6,-8 10,-8" stroke-width="2.5"/>
<ellipse cx="878" cy="552.6" rx="5" ry="7.5" stroke-width="2.3"/>
<ellipse cx="890" cy="552.6" rx="5" ry="7.5" stroke-width="2.3"/>
<ellipse cx="902" cy="552.6" rx="5" ry="7.5" stroke-width="2.3"/>
<circle cx="988.5" cy="552.6" r="6.5" class="k"/>
<rect x="795" y="549.6" width="23" height="6" class="w"/>
<circle cx="806.5" cy="552.6" r="11" stroke-width="2.5"/>
<text x="806.5" y="557.3" font-size="13" font-weight="bold" text-anchor="middle">1</text>
<polyline points="778,572.5 862,572.5" stroke-width="3"/>
<polyline points="917,572.5 988,572.5" stroke-width="3"/>
<path d="M862,572.5 c4,0 4,8 10,8 h35 c6,0 6,-8 10,-8" stroke-width="2.5"/>
<ellipse cx="878" cy="572.5" rx="5" ry="7.5" stroke-width="2.3"/>
<ellipse cx="890" cy="572.5" rx="5" ry="7.5" stroke-width="2.3"/>
<ellipse cx="902" cy="572.5" rx="5" ry="7.5" stroke-width="2.3"/>
<circle cx="988.5" cy="572.5" r="6.5" class="k"/>
<rect x="940" y="569.5" width="23" height="6" class="w"/>
<circle cx="951.7" cy="572.5" r="11" stroke-width="2.5"/>
<text x="951.7" y="577.2" font-size="13" font-weight="bold" text-anchor="middle">3</text>
<polyline points="778,591.8 862,591.8" stroke-width="3"/>
<polyline points="917,591.8 988,591.8" stroke-width="3"/>
<path d="M862,591.8 c4,0 4,8 10,8 h35 c6,0 6,-8 10,-8" stroke-width="2.5"/>
<ellipse cx="878" cy="591.8" rx="5" ry="7.5" stroke-width="2.3"/>
<ellipse cx="890" cy="591.8" rx="5" ry="7.5" stroke-width="2.3"/>
<ellipse cx="902" cy="591.8" rx="5" ry="7.5" stroke-width="2.3"/>
<circle cx="988.5" cy="591.8" r="6.5" class="k"/>
<rect x="795" y="588.8" width="23" height="6" class="w"/>
<circle cx="806.5" cy="591.8" r="11" stroke-width="2.5"/>
<text x="806.5" y="596.5" font-size="13" font-weight="bold" text-anchor="middle">6</text>
<polyline points="778,611.2 862,611.2" stroke-width="3"/>
<polyline points="917,611.2 988,611.2" stroke-width="3"/>
<path d="M862,611.2 c4,0 4,8 10,8 h35 c6,0 6,-8 10,-8" stroke-width="2.5"/>
<ellipse cx="878" cy="611.2" rx="5" ry="7.5" stroke-width="2.3"/>
<ellipse cx="890" cy="611.2" rx="5" ry="7.5" stroke-width="2.3"/>
<ellipse cx="902" cy="611.2" rx="5" ry="7.5" stroke-width="2.3"/>
<circle cx="988.5" cy="611.2" r="6.5" class="k"/>
<rect x="940" y="608.2" width="23" height="6" class="w"/>
<circle cx="951.7" cy="611.2" r="11" stroke-width="2.5"/>
<text x="951.7" y="615.9" font-size="13" font-weight="bold" text-anchor="middle">5</text>
<rect x="811" y="632" width="138.2" height="18.5" stroke-width="3"/>
<text x="838.3" y="645.4" font-size="13" font-weight="bold" textLength="83.6" lengthAdjust="spacingAndGlyphs">INJECTOR #1</text>
<polyline points="778,640 809.5,640" stroke-width="3"/>
<polyline points="950.7,640 988,640" stroke-width="3"/>
<circle cx="988" cy="640" r="6.5" class="k"/>
<rect x="811" y="675.5" width="138.2" height="18" stroke-width="3"/>
<text x="838.3" y="690.4" font-size="13" font-weight="bold" textLength="83.6" lengthAdjust="spacingAndGlyphs">INJECTOR #2</text>
<polyline points="778,685 809.5,685" stroke-width="3"/>
<polyline points="950.7,685 988,685" stroke-width="3"/>
<circle cx="988" cy="685" r="6.5" class="k"/>
<rect x="811" y="721.5" width="138.2" height="18" stroke-width="3"/>
<text x="838.3" y="736.4" font-size="13" font-weight="bold" textLength="83.6" lengthAdjust="spacingAndGlyphs">INJECTOR #3</text>
<polyline points="778,731 809.5,731" stroke-width="3"/>
<polyline points="950.7,731 988,731" stroke-width="3"/>
<circle cx="988" cy="731" r="6.5" class="k"/>
<rect x="811" y="767.5" width="138.2" height="18" stroke-width="3"/>
<text x="838.3" y="781.4" font-size="13" font-weight="bold" textLength="83.6" lengthAdjust="spacingAndGlyphs">INJECTOR #4</text>
<polyline points="778,776 809.5,776" stroke-width="3"/>
<polyline points="950.7,776 988,776" stroke-width="3"/>
<circle cx="988" cy="776" r="6.5" class="k"/>
<rect x="811" y="812.5" width="138.2" height="19" stroke-width="3"/>
<text x="838.3" y="827.4" font-size="13" font-weight="bold" textLength="83.6" lengthAdjust="spacingAndGlyphs">INJECTOR #5</text>
<polyline points="778,822 809.5,822" stroke-width="3"/>
<polyline points="950.7,822 988,822" stroke-width="3"/>
<circle cx="988" cy="822" r="6.5" class="k"/>
<rect x="811" y="854.5" width="138.2" height="19" stroke-width="3"/>
<text x="838.3" y="869.4" font-size="13" font-weight="bold" textLength="83.6" lengthAdjust="spacingAndGlyphs">INJECTOR #6</text>
<polyline points="778,864 809.5,864" stroke-width="3"/>
<polyline points="988,640 1063,640 1063,614" stroke-width="3"/>
<polygon points="1063,597 1055,615 1071,615" class="k"/>
<text x="1049" y="571.9" font-size="16" font-weight="bold" textLength="20" lengthAdjust="spacingAndGlyphs">TO</text>
<text x="1041.5" y="590.4" font-size="16" font-weight="bold" textLength="34" lengthAdjust="spacingAndGlyphs">GEN</text>
<polyline points="778,932 852,932" stroke-width="3"/>
<polygon points="871,932 851,924 851,940" class="k"/>
<text x="880" y="937.9" font-size="16" font-weight="bold" textLength="238" lengthAdjust="spacingAndGlyphs">SC VENT SOLENOID CONTROL</text>
<polyline points="778,967 852,967" stroke-width="3"/>
<polygon points="871,967 851,959 851,975" class="k"/>
<text x="880" y="972.9" font-size="16" font-weight="bold" textLength="263" lengthAdjust="spacingAndGlyphs">SC VACUUM SOLENOID CONTROL</text>
<polyline points="778,1001 852,1001" stroke-width="3"/>
<polygon points="871,1001 851,993 851,1009" class="k"/>
<text x="880" y="1006.9" font-size="16" font-weight="bold" textLength="152" lengthAdjust="spacingAndGlyphs">SC SWITCH SIGNAL</text>
<polyline points="778,1037 852,1037" stroke-width="3"/>
<polygon points="871,1037 851,1029 851,1045" class="k"/>
<text x="880" y="1042.9" font-size="16" font-weight="bold" textLength="151" lengthAdjust="spacingAndGlyphs">SC POWER SUPPLY</text>
<text x="1196.5" y="1008.4" font-size="16" font-weight="bold" textLength="32.5" lengthAdjust="spacingAndGlyphs">ASD</text>
<text x="1186.5" y="1026.9" font-size="16" font-weight="bold" textLength="51.5" lengthAdjust="spacingAndGlyphs">RELAY</text>
<text x="1180" y="1045.4" font-size="16" font-weight="bold" textLength="65" lengthAdjust="spacingAndGlyphs">OUTPUT</text>
<rect x="946.8" y="1067.8" width="102.5" height="135.5" stroke-width="5.5"/>
<text x="979" y="1109.4" font-size="16" font-weight="bold" textLength="36" lengthAdjust="spacingAndGlyphs">IDLE</text>
<text x="984" y="1128.4" font-size="16" font-weight="bold" textLength="27.5" lengthAdjust="spacingAndGlyphs">AIR</text>
<text x="959" y="1146.9" font-size="16" font-weight="bold" textLength="77.5" lengthAdjust="spacingAndGlyphs">CONTROL</text>
<text x="969" y="1164.4" font-size="16" font-weight="bold" textLength="57.5" lengthAdjust="spacingAndGlyphs">MOTOR</text>
<polyline points="778,1078 944,1078" stroke-width="3"/>
<polyline points="778,1118 944,1118" stroke-width="3"/>
<polyline points="778,1152 944,1152" stroke-width="3"/>
<polyline points="778,1192 944,1192" stroke-width="3"/>
<circle cx="897.8" cy="1250.9" r="24" stroke-width="2.5"/>
<polyline points="778,1233 884.5,1233" stroke-width="3"/>
<polyline points="778,1253.5 874.3,1253.5" stroke-width="3"/>
<polyline points="876,1254.3 888,1233.9 896.4,1269.7 911.7,1253.5 920.3,1253.5" stroke-width="3"/>
<text x="960" y="1244.4" font-size="16" font-weight="bold" textLength="101.5" lengthAdjust="spacingAndGlyphs">EVAP PURGE</text>
<text x="970" y="1262.9" font-size="16" font-weight="bold" textLength="82.5" lengthAdjust="spacingAndGlyphs">SOLENOID</text>
<polyline points="778,1372.8 873.4,1372.8 883.6,1352.3 891.3,1388 907.5,1372 1150,1371" stroke-width="3"/>
<circle cx="1150" cy="1371" r="6.5" class="k"/>
<text x="814.6" y="1345.4" font-size="16" font-weight="bold" textLength="170.4" lengthAdjust="spacingAndGlyphs">MANIFOLD SOLENOID</text>
<polyline points="778,1427.3 873.4,1427.3 883.6,1407.7 891.3,1444.4 907.5,1427.3 1153,1426 1150,1371" stroke-width="3"/>
<text x="793.3" y="1403.4" font-size="16" font-weight="bold" textLength="213.7" lengthAdjust="spacingAndGlyphs">SHORT RUNNER SOLENOID</text>
<text x="1281.5" y="1371.9" font-size="16" font-weight="bold" textLength="51.5" lengthAdjust="spacingAndGlyphs">FUSED</text>
<text x="1271.5" y="1390.9" font-size="16" font-weight="bold" textLength="71" lengthAdjust="spacingAndGlyphs">IGNITION</text>
<text x="1274" y="1409.4" font-size="16" font-weight="bold" textLength="66" lengthAdjust="spacingAndGlyphs">OUTPUT</text>
<polyline points="881.5,1451.8 1323,1450.7 1323,1434" stroke-width="3"/>
<polygon points="1323,1417 1315,1435 1331,1435" class="k"/>
<circle cx="1000.3" cy="1451" r="6.5" class="k"/>
<circle cx="1164.5" cy="1450" r="6.5" class="k"/>
<polyline points="932,1466.6 1245,1466.6" stroke-width="3"/>
<polygon points="1264,1466.6 1244,1458.6 1244,1474.6" class="k"/>
<circle cx="1054" cy="1466.6" r="6.5" class="k"/>
<circle cx="1218" cy="1466.6" r="6.5" class="k"/>
<text x="1271.5" y="1469.4" font-size="16" font-weight="bold" textLength="22.5" lengthAdjust="spacingAndGlyphs">TO</text>
<text x="1246.5" y="1488.4" font-size="16" font-weight="bold" textLength="71.5" lengthAdjust="spacingAndGlyphs">BATTERY</text>
<rect x="862.8" y="1482.8" width="92.7" height="101.1" stroke-width="5.5"/>
<polyline points="881.5,1498 908.5,1498 908.5,1508 914.5,1512 898.5,1519 914.5,1528 900.5,1537 914.5,1546 898.5,1553 908.5,1556 908.5,1564 881.5,1564" stroke-width="2.5"/>
<path d="M881.5,1506 c8,0 8,4 8,10 v30 c0,6 0,10 -8,10" stroke-width="2.5"/>
<ellipse cx="880.5" cy="1520" rx="7" ry="4" stroke-width="2.5"/>
<ellipse cx="880.5" cy="1532" rx="7" ry="4" stroke-width="2.5"/>
<ellipse cx="880.5" cy="1544" rx="7" ry="4" stroke-width="2.5"/>
<circle cx="932.3" cy="1511" r="5.2" class="k"/>
<circle cx="923" cy="1553.4" r="5.2" class="k"/>
<circle cx="944.3" cy="1553.4" r="5.2" class="k"/>
<polyline points="932.3,1511 923,1553.4" stroke-width="3"/>
<polyline points="923,1553.4 923,1583.6" stroke-width="3"/>
<polyline points="881.5,1451.8 881.5,1505" stroke-width="3"/>
<polyline points="881.5,1557 881.5,1612.8 829,1612.8 829,1527.3 778,1527.3" stroke-width="3"/>
<polyline points="932,1466.6 932.3,1511" stroke-width="3"/>
<polyline points="944.3,1553.4 944,1666 1091,1666" stroke-width="3"/>
<rect x="983.5" y="1482.8" width="92.8" height="100.5" stroke-width="5.5"/>
<polyline points="1000.7,1498 1027.7,1498 1027.7,1508 1033.7,1512 1017.7,1519 1033.7,1528 1019.7,1537 1033.7,1546 1017.7,1553 1027.7,1556 1027.7,1564 1000.7,1564" stroke-width="2.5"/>
<path d="M1000.7,1506 c8,0 8,4 8,10 v30 c0,6 0,10 -8,10" stroke-width="2.5"/>
<ellipse cx="999.7" cy="1532" rx="7" ry="4" stroke-width="2.5"/>
<ellipse cx="999.7" cy="1543" rx="7" ry="4" stroke-width="2.5"/>
<circle cx="1053.3" cy="1510.3" r="5.2" class="k"/>
<circle cx="1044" cy="1552.8" r="5.2" class="k"/>
<circle cx="1064.4" cy="1552.8" r="5.2" class="k"/>
<polyline points="1053.3,1510.3 1044,1552.8" stroke-width="3"/>
<polyline points="1044,1552.8 1044,1583" stroke-width="3"/>
<polyline points="1000.5,1451 1000.7,1505" stroke-width="3"/>
<polyline points="1000.7,1557 1002.5,1622 805,1622 805,1566 778,1566" stroke-width="3"/>
<polyline points="1054,1466.6 1053.3,1510.3" stroke-width="3"/>
<polyline points="1064.4,1552.8 1064,1602 1193.7,1602 1193.7,1634" stroke-width="3"/>
<circle cx="1122" cy="1602" r="6.5" class="k"/>
<polyline points="1122,1602 1122,1634" stroke-width="3"/>
<rect x="1147.3" y="1482.2" width="92.9" height="100.3" stroke-width="5.5"/>
<polyline points="1164.5,1497.5 1191.5,1497.5 1191.5,1507.5 1197.5,1511.5 1181.5,1518.5 1197.5,1527.5 1183.5,1536.5 1197.5,1545.5 1181.5,1552.5 1191.5,1555.5 1191.5,1563.5 1164.5,1563.5" stroke-width="2.5"/>
<path d="M1164.5,1505.5 c8,0 8,4 8,10 v30 c0,6 0,10 -8,10" stroke-width="2.5"/>
<ellipse cx="1163.5" cy="1531.5" rx="7" ry="4" stroke-width="2.5"/>
<ellipse cx="1163.5" cy="1542.5" rx="7" ry="4" stroke-width="2.5"/>
<circle cx="1217" cy="1509" r="5.2" class="k"/>
<circle cx="1208" cy="1552.7" r="5.2" class="k"/>
<circle cx="1228" cy="1552.7" r="5.2" class="k"/>
<polyline points="1217,1509 1208,1552.7" stroke-width="3"/>
<polyline points="1208,1552.7 1208,1582.3" stroke-width="3"/>
<polyline points="1164.5,1450 1164.5,1504" stroke-width="3"/>
<polyline points="1164.5,1556 1167.5,1629.6 778,1631.5" stroke-width="3"/>
<polyline points="1218,1466.6 1217,1509" stroke-width="3"/>
<polyline points="1228,1552.7 1228,1616.7 1245,1617" stroke-width="3"/>
<polygon points="1264,1617 1244,1609 1244,1625" class="k"/>
<text x="1274" y="1604.4" font-size="16" font-weight="bold" textLength="20" lengthAdjust="spacingAndGlyphs">TO</text>
<text x="1271.5" y="1622.9" font-size="16" font-weight="bold" textLength="27.5" lengthAdjust="spacingAndGlyphs">A/C</text>
<text x="1252.5" y="1640.4" font-size="16" font-weight="bold" textLength="64" lengthAdjust="spacingAndGlyphs">CLUTCH</text>
<text x="809" y="1466.9" font-size="16" font-weight="bold" textLength="20" lengthAdjust="spacingAndGlyphs">LO</text>
<text x="793" y="1485.4" font-size="16" font-weight="bold" textLength="52" lengthAdjust="spacingAndGlyphs">SPEED</text>
<text x="794" y="1504.4" font-size="16" font-weight="bold" textLength="50" lengthAdjust="spacingAndGlyphs">RELAY</text>
<text x="1104" y="1491.9" font-size="16" font-weight="bold" textLength="15" lengthAdjust="spacingAndGlyphs">HI</text>
<text x="1085.5" y="1510.4" font-size="16" font-weight="bold" textLength="52.5" lengthAdjust="spacingAndGlyphs">SPEED</text>
<text x="1086.5" y="1527.9" font-size="16" font-weight="bold" textLength="50" lengthAdjust="spacingAndGlyphs">RELAY</text>
<text x="1269" y="1526.9" font-size="16" font-weight="bold" textLength="27.5" lengthAdjust="spacingAndGlyphs">A/C</text>
<text x="1250" y="1545.4" font-size="16" font-weight="bold" textLength="65" lengthAdjust="spacingAndGlyphs">CLUTCH</text>
<text x="1257.5" y="1562.9" font-size="16" font-weight="bold" textLength="51.5" lengthAdjust="spacingAndGlyphs">RELAY</text>
<circle cx="1121.7" cy="1665" r="30.7" stroke-width="2.5"/>
<text x="1121.7" y="1672" font-size="19" font-weight="bold" text-anchor="middle" textLength="17" lengthAdjust="spacingAndGlyphs">M</text>
<circle cx="1192.7" cy="1665" r="31" stroke-width="2.5"/>
<text x="1192.7" y="1672" font-size="19" font-weight="bold" text-anchor="middle" textLength="17" lengthAdjust="spacingAndGlyphs">M</text>
<polyline points="1121.7,1696 1121.7,1716 1192.7,1716" stroke-width="3"/>
<circle cx="1192.7" cy="1716" r="6.5" class="k"/>
<polyline points="1192.7,1696 1192.7,1732.7" stroke-width="3"/>
<line x1="1177.7" y1="1733" x2="1207.7" y2="1733" stroke-width="3"/>
<line x1="1180.7" y1="1739" x2="1204.7" y2="1739" stroke-width="3"/>
<line x1="1183.7" y1="1744.8" x2="1201.7" y2="1744.8" stroke-width="3"/>
<line x1="1185.7" y1="1750" x2="1199.7" y2="1750" stroke-width="3"/>
<line x1="1188.7" y1="1755" x2="1196.7" y2="1755" stroke-width="3"/>
<text x="1219" y="1706.9" font-size="16" font-weight="bold" textLength="80" lengthAdjust="spacingAndGlyphs">RADIATOR</text>
<text x="1206.5" y="1725.4" font-size="16" font-weight="bold" textLength="103.5" lengthAdjust="spacingAndGlyphs">FAN MOTORS</text>
<rect x="833.4" y="1650.4" width="93.5" height="128.2" stroke-width="4.8"/>
<polyline points="778,1677 865,1676 870,1658 876.7,1690 885,1676 1053,1674 1053,1771.7 1323,1770 1323,1434" stroke-width="3"/>
<circle cx="1053.3" cy="1732.7" r="6.5" class="k"/>
<circle cx="878.3" cy="1733.3" r="22" stroke-width="2.5"/>
<circle cx="866.7" cy="1733" r="6" class="k"/>
<circle cx="891.7" cy="1733" r="6" class="k"/>
<text x="838" y="1707.4" font-size="15" font-weight="bold" textLength="84" lengthAdjust="spacingAndGlyphs">SOLENOID</text>
<text x="849" y="1772.1" font-size="15" font-weight="bold" textLength="62" lengthAdjust="spacingAndGlyphs">SWITCH</text>
<text x="792.7" y="1798.4" font-size="16" font-weight="bold" textLength="188.3" lengthAdjust="spacingAndGlyphs">LEAK DETECTION PUMP</text>
<text x="1275" y="1811.6" font-size="15" font-weight="normal" textLength="70" lengthAdjust="spacingAndGlyphs">809b6324</text>
</svg></body></html>
